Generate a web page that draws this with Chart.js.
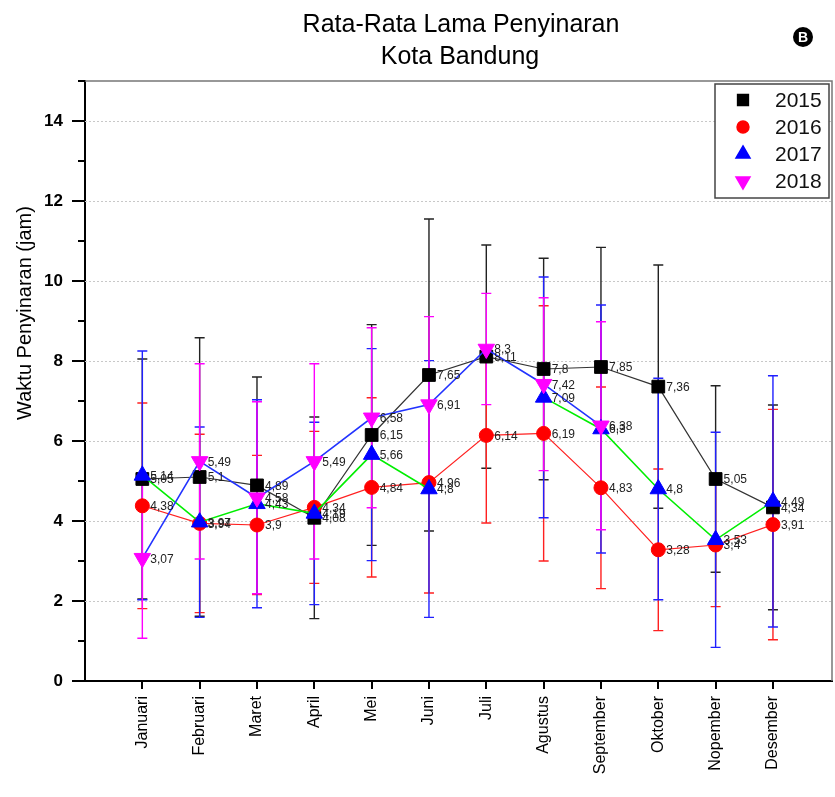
<!DOCTYPE html>
<html>
<head>
<meta charset="utf-8">
<script src="https://cdn.jsdelivr.net/npm/chart.js@4.4.1/dist/chart.umd.min.js"></script>
<style>
  html, body { margin: 0; padding: 0; background: #fff; }
  #wrap { width: 835px; height: 797px; }
</style>
</head>
<body>
<div id="wrap"><canvas id="sunChart" width="835" height="797"></canvas></div>
<script>
// bulan
const bulan = ['Januari', 'Februari', 'Maret', 'April', 'Mei', 'Juni', 'Juli',
  'Agustus', 'September', 'Oktober', 'Nopember', 'Desember'];

// rata-rata lama penyinaran (jam) per tahun, dan simpangannya
const th2015 = [5.05, 5.1, 4.89, 4.08, 6.15, 7.65, 8.11, 7.8, 7.85, 7.36, 5.05, 4.34];
const sd2015 = [3.0, 3.48, 2.71, 2.52, 2.76, 3.9, 2.79, 2.77, 2.99, 3.04, 2.33, 2.56];
const th2016 = [4.38, 3.94, 3.9, 4.34, 4.84, 4.96, 6.14, 6.19, 4.83, 3.28, 3.4, 3.91];
const sd2016 = [2.57, 2.23, 1.74, 1.9, 2.24, 2.76, 2.19, 3.19, 2.52, 2.02, 1.54, 2.88];
const th2017 = [5.14, 3.97, 4.43, 4.19, 5.66, 4.8, null, 7.09, 6.3, 4.8, 3.53, 4.49];
const sd2017 = [3.11, 2.38, 2.6, 2.28, 2.65, 3.21, null, 3.01, 3.1, 2.77, 2.69, 3.14];
const th2018 = [3.07, 5.49, 4.58, 5.49, 6.58, 6.91, 8.3, 7.42, 6.38, null, null, null];
const sd2018 = [2.0, 2.44, 2.4, 2.44, 2.25, 2.2, 1.39, 2.16, 2.6, null, null, null];

const yTicks = [0, 2, 4, 6, 8, 10, 12, 14];
const tahun = ['2015', '2016', '2017', '2018'];

const FONT = '"Liberation Sans", Arial, sans-serif';

// ======================
// Gaya tiap seri
// ======================
const seri = [
  { label: tahun[0], nilai: th2015, sd: sd2015, garis: '#333333', warna: '#000000', bar: '#222222', titik: 'rect', r: 9, rot: 0, urut: 4 },
  { label: tahun[1], nilai: th2016, sd: sd2016, garis: '#ff2020', warna: '#ff0000', bar: '#ff2020', titik: 'circle', r: 7, rot: 0, urut: 3 },
  { label: tahun[2], nilai: th2017, sd: sd2017, garis: '#00ee00', warna: '#0000ff', bar: '#2020ff', titik: 'triangle', r: 9.5, rot: 0, urut: 2 },
  { label: tahun[3], nilai: th2018, sd: sd2018, garis: '#2233ff', warna: '#ff00ff', bar: '#ff00ff', titik: 'triangle', r: 9.5, rot: 180, urut: 1 }
];

const koma = v => String(v).replace('.', ',');

const datasets = seri.map(s => ({
  label: s.label,
  data: s.nilai.map((v, i) => ({ x: i + 1, y: v })),
  borderColor: s.garis,
  borderWidth: s.titik === 'triangle' ? 1.6 : 1.2,
  backgroundColor: s.warna,
  pointBackgroundColor: s.warna,
  pointBorderColor: s.warna,
  pointBorderWidth: 1,
  pointStyle: s.titik,
  pointRotation: s.rot,
  pointRadius: s.r,
  spanGaps: false,
  tension: 0,
  order: s.urut,
  sd: s.sd
}));

// ======================
// Plugin: grid titik-titik, error bar, label nilai, legenda, judul
// ======================
const hiasan = {
  id: 'hiasan',
  beforeDatasetsDraw(chart) {
    const { ctx, chartArea: a, scales: { x, y } } = chart;
    ctx.save();
    // grid horizontal putus-putus
    ctx.strokeStyle = '#c8c8c8';
    ctx.lineWidth = 1;
    ctx.setLineDash([2, 2]);
    y.ticks.forEach(t => {
      if (t.value > 0 && t.value < 15 && yTicks.includes(t.value)) {
        const py = Math.round(y.getPixelForValue(t.value)) + 0.5;
        ctx.beginPath(); ctx.moveTo(a.left, py); ctx.lineTo(a.right, py); ctx.stroke();
      }
    });
    ctx.setLineDash([]);
    // bingkai atas & kanan
    ctx.strokeStyle = '#777';
    ctx.lineWidth = 1.5;
    ctx.beginPath();
    ctx.moveTo(a.left, a.top); ctx.lineTo(a.right, a.top); ctx.lineTo(a.right, a.bottom);
    ctx.stroke();
    // tick sumbu y (mayor & minor)
    ctx.strokeStyle = '#000';
    ctx.lineWidth = 2;
    y.ticks.forEach(t => {
      const py = y.getPixelForValue(t.value);
      const len = yTicks.includes(t.value) ? 13 : 7;
      ctx.beginPath(); ctx.moveTo(a.left - len, py); ctx.lineTo(a.left, py); ctx.stroke();
    });
    // nama bulan, diputar tegak
    ctx.fillStyle = '#000';
    ctx.font = '16px ' + FONT;
    ctx.textAlign = 'right';
    ctx.textBaseline = 'middle';
    x.ticks.forEach(t => {
      const px = x.getPixelForValue(t.value);
      ctx.save();
      ctx.translate(px, a.bottom + 15);
      ctx.rotate(-Math.PI / 2);
      ctx.fillText(bulan[t.value - 1], 0, 0);
      ctx.restore();
    });
    // error bar
    ctx.lineWidth = 1.4;
    seri.forEach(s => {
      ctx.strokeStyle = s.bar;
      s.nilai.forEach((v, i) => {
        if (v == null || s.sd[i] == null) return;
        const px = x.getPixelForValue(i + 1);
        const atas = y.getPixelForValue(v + s.sd[i]);
        const bawah = y.getPixelForValue(v - s.sd[i]);
        ctx.beginPath();
        ctx.moveTo(px, atas); ctx.lineTo(px, bawah);
        ctx.moveTo(px - 5, atas); ctx.lineTo(px + 5, atas);
        ctx.moveTo(px - 5, bawah); ctx.lineTo(px + 5, bawah);
        ctx.stroke();
      });
    });
    ctx.restore();
  },
  afterDatasetsDraw(chart) {
    const { ctx } = chart;
    ctx.save();
    ctx.font = '12px ' + FONT;
    ctx.fillStyle = '#222';
    ctx.textAlign = 'left';
    ctx.textBaseline = 'middle';
    chart.data.datasets.forEach((ds, di) => {
      const meta = chart.getDatasetMeta(di);
      ds.data.forEach((d, i) => {
        if (d.y == null) return;
        const p = meta.data[i];
        ctx.fillText(koma(d.y), p.x + 8, p.y + 1);
      });
    });
    ctx.restore();
  },
  afterDraw(chart) {
    const { ctx } = chart;
    ctx.save();
    // judul
    ctx.fillStyle = '#000';
    ctx.textAlign = 'center';
    ctx.textBaseline = 'middle';
    ctx.font = '25px ' + FONT;
    ctx.fillText('Rata-Rata Lama Penyinaran', 461, 25);
    ctx.fillText('Kota Bandung', 460, 57);
    // lencana B
    ctx.beginPath(); ctx.arc(803, 37, 10, 0, Math.PI * 2); ctx.fill();
    ctx.fillStyle = '#fff';
    ctx.font = 'bold 14px ' + FONT;
    ctx.fillText('B', 803, 38);
    // judul sumbu y
    ctx.fillStyle = '#000';
    ctx.font = '20px ' + FONT;
    ctx.translate(25, 313);
    ctx.rotate(-Math.PI / 2);
    ctx.fillText('Waktu Penyinaran (jam)', 0, 0);
    ctx.restore();

    // legenda
    ctx.save();
    ctx.fillStyle = '#fff';
    ctx.fillRect(715, 84, 114, 114);
    ctx.strokeStyle = '#444';
    ctx.lineWidth = 1.5;
    ctx.strokeRect(715, 84, 114, 114);
    ctx.font = '21px ' + FONT;
    ctx.textAlign = 'left';
    ctx.textBaseline = 'middle';
    seri.forEach((s, i) => {
      const cy = 100 + i * 27;
      ctx.fillStyle = s.warna;
      ctx.strokeStyle = s.warna;
      Chart.helpers.drawPoint(ctx, { pointStyle: s.titik, radius: s.r * 0.85, rotation: s.rot, borderWidth: 1 }, 743, cy);
      ctx.fillStyle = '#111';
      ctx.fillText(s.label, 775, cy + 1);
    });
    ctx.restore();
  }
};

const chart = new Chart(document.getElementById('sunChart').getContext('2d'), {
  type: 'line',
  data: { datasets },
  options: {
    responsive: false,
    animation: false,
    devicePixelRatio: 1,
    layout: { autoPadding: false, padding: { top: 81, right: 3, left: 0, bottom: 0 } },
    plugins: { legend: { display: false }, tooltip: { enabled: false } },
    scales: {
      x: {
        type: 'linear',
        min: 0,
        max: 13.03,
        afterBuildTicks: sc => { sc.ticks = bulan.map((b, i) => ({ value: i + 1 })); },
        afterFit: sc => { sc.height = 116; },
        ticks: { display: false },
        grid: { drawOnChartArea: false, tickLength: 8, color: '#000', lineWidth: 2 },
        border: { color: '#000', width: 2 }
      },
      y: {
        type: 'linear',
        min: 0,
        max: 15,
        afterFit: sc => { sc.width = 85; },
        ticks: {
          stepSize: 1,
          padding: 22,
          color: '#000',
          font: { family: FONT, size: 17, weight: 'bold' },
          callback: v => yTicks.includes(v) ? String(v) : ''
        },
        grid: { drawOnChartArea: false, drawTicks: false },
        border: { color: '#000', width: 2 }
      }
    }
  },
  plugins: [hiasan]
});
</script>
</body>
</html>
